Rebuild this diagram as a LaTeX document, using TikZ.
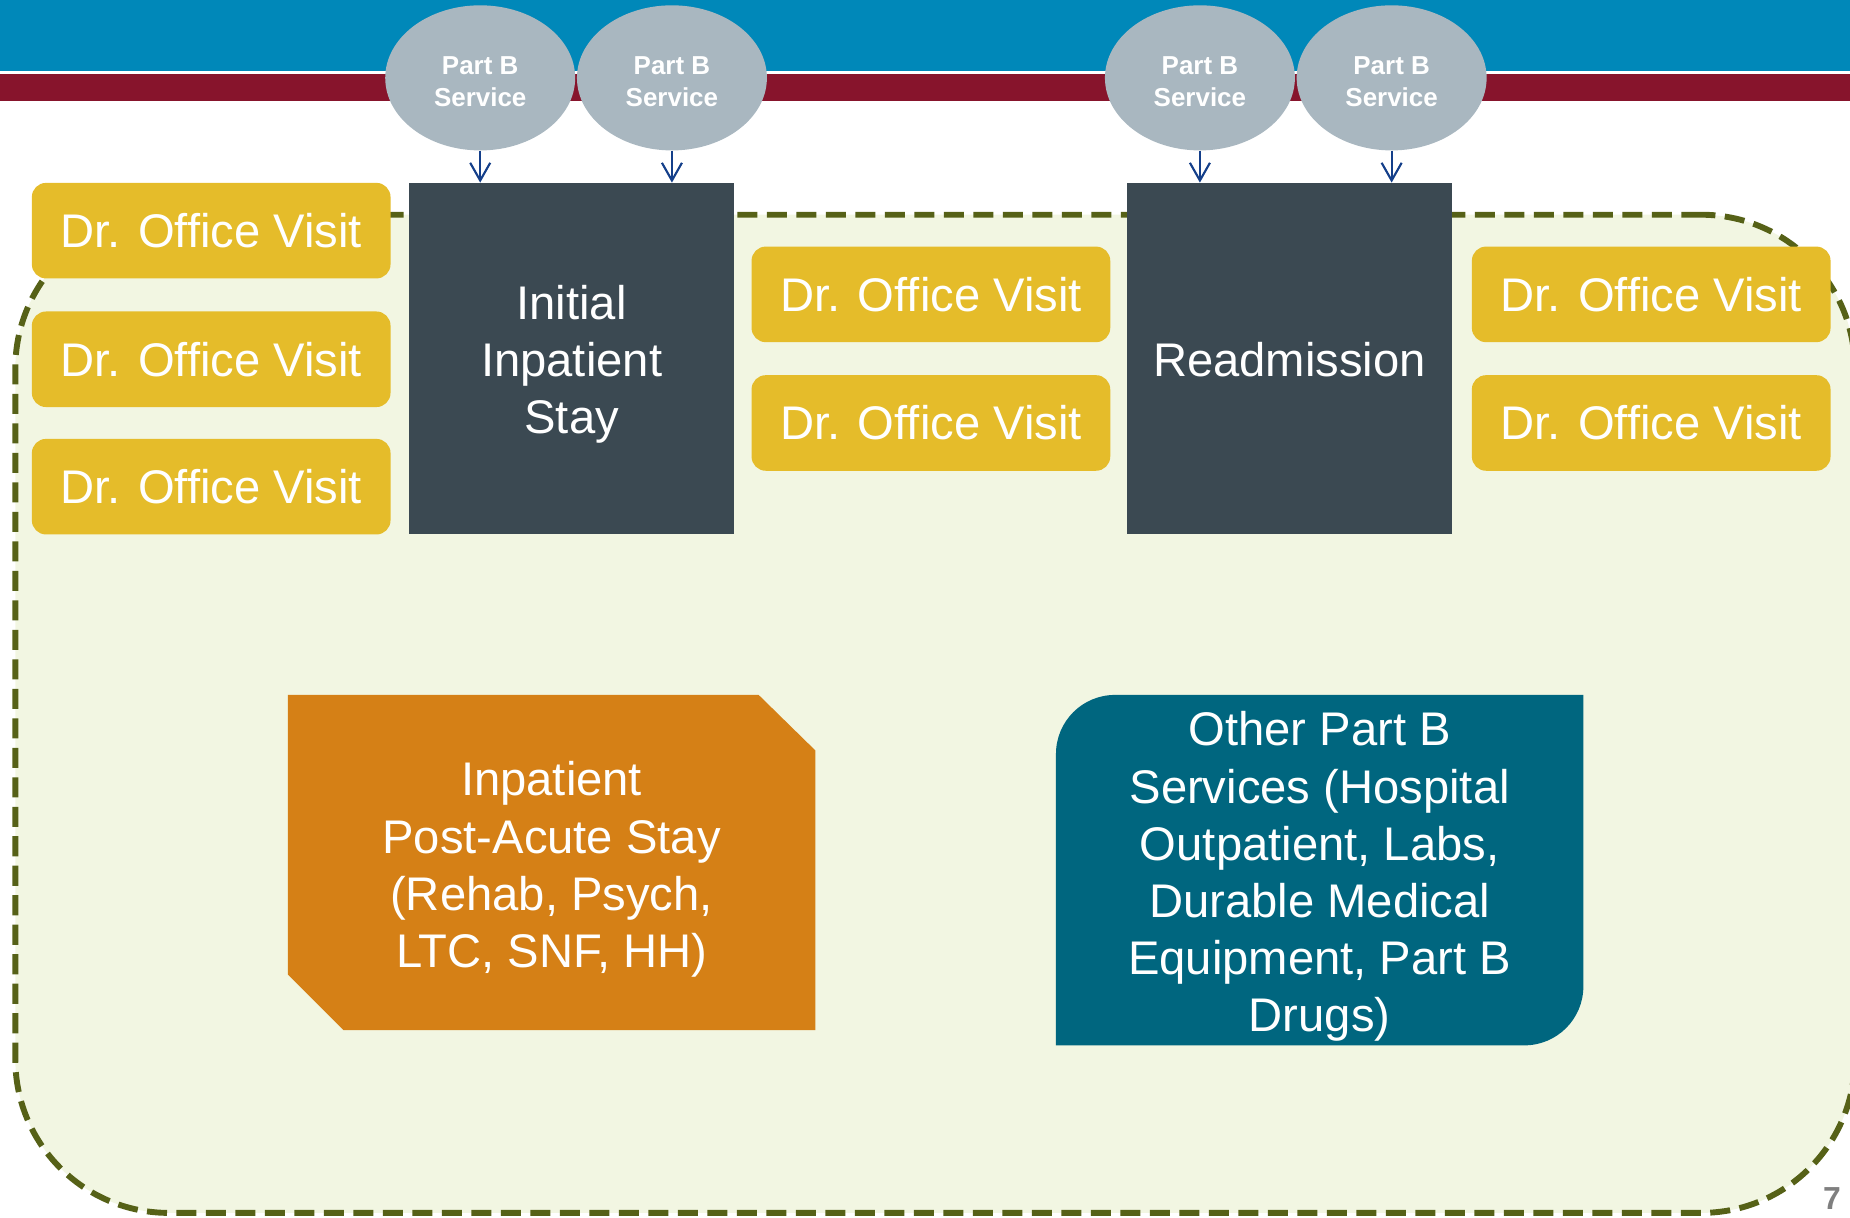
\documentclass[tikz,border=0pt]{standalone}
\usepackage{fontspec}
\setmainfont{Liberation Sans}
\usetikzlibrary{shapes.geometric,arrows.meta}
\definecolor{bannerblue}{HTML}{0088B9}
\definecolor{bannerred}{HTML}{87142C}
\definecolor{visitc}{HTML}{E5BC2A}
\definecolor{stayc}{HTML}{3B4952}
\definecolor{partbc}{HTML}{A9B7C0}
\definecolor{orangec}{HTML}{D58016}
\definecolor{tealc}{HTML}{00667F}
\definecolor{bgc}{HTML}{F2F6E2}
\definecolor{dashc}{HTML}{566117}
\definecolor{arrowc}{HTML}{143F8A}
\definecolor{pagec}{HTML}{7F7F7F}
\begin{document}
\begin{tikzpicture}[x=1pt,y=-1pt,
  visit/.style={rectangle, rounded corners=12pt, fill=visitc, text=white,
    minimum width=304pt, minimum height=81pt, inner sep=0pt,
    font=\fontsize{40}{48}\selectfont},
  stay/.style={rectangle, fill=stayc, minimum width=275pt,
    minimum height=298pt, inner sep=0pt},
  partb/.style={ellipse, fill=partbc, minimum width=161pt,
    minimum height=123pt, inner sep=0pt},
  partbtext/.style={text=white, inner sep=0pt, align=center,
    font=\bfseries\fontsize{22}{27}\selectfont},
  feed/.style={draw=arrowc, line width=1.8pt, -{Straight Barb[length=15pt,width=17pt]}},
  bigtext/.style={text=white, inner sep=0pt, align=center,
    font=\fontsize{40}{48.5}\selectfont}
]
\useasboundingbox (0,0) rectangle (1568,1032);
% banner
\fill[bannerblue] (0,0) rectangle (1568,60);
\fill[bannerred] (0,63) rectangle (1568,86);
% episode area
\node[draw=dashc, fill=bgc, line width=5pt, dash pattern=on 17pt off 8pt,
  rounded corners=130pt, minimum width=1559pt, minimum height=846pt,
  inner sep=0pt] (episode) at (792.5,605) {};
% main stays
\node[stay] (init) at (484.5,304) {};
\node[bigtext] (initlbl) at (484.5,309) {Initial\\Inpatient\\Stay};
\node[stay] (readm) at (1093,304) {};
\node[bigtext] (readmlbl) at (1093,305) {Readmission};
% part B ellipses
\node[partb] (pb1) at (407,66) {};
\node[partb] (pb2) at (569.5,66) {};
\node[partb] (pb3) at (1017,66) {};
\node[partb] (pb4) at (1179.5,66) {};
\node[partbtext] (pb1lbl) at (407,69) {Part B\\Service};
\node[partbtext] (pb2lbl) at (569.5,69) {Part B\\Service};
\node[partbtext] (pb3lbl) at (1017,69) {Part B\\Service};
\node[partbtext] (pb4lbl) at (1179.5,69) {Part B\\Service};
\draw[feed] (pb1.south) -- (pb1.south |- init.north);
\draw[feed] (pb2.south) -- (pb2.south |- init.north);
\draw[feed] (pb3.south) -- (pb3.south |- readm.north);
\draw[feed] (pb4.south) -- (pb4.south |- readm.north);
% office visits
\node[visit] (v1) at (179,195.5) {Dr. Office Visit};
\node[visit] (v2) at (179,304.5) {Dr. Office Visit};
\node[visit] (v3) at (179,412.5) {Dr. Office Visit};
\node[visit] (v4) at (789,249.5) {Dr. Office Visit};
\node[visit] (v5) at (789,358.5) {Dr. Office Visit};
\node[visit] (v6) at (1399.5,249.5) {Dr. Office Visit};
\node[visit] (v7) at (1399.5,358.5) {Dr. Office Visit};
% post-acute stay
\fill[orangec] (244,589) -- (643,589) -- (691,636) -- (691,873)
  -- (291,873) -- (244,826) -- cycle;
\node[bigtext] (pac) at (467.5,737) {Inpatient\\Post-Acute Stay\\(Rehab, Psych,\\LTC, SNF, HH)};
% other part B services
\fill[tealc] (895,886) -- (895,639) arc[start angle=180, end angle=90, radius=50pt]
  -- (1342,589) -- (1342,836) arc[start angle=0, end angle=-90, radius=50pt] -- cycle;
\node[bigtext] (other) at (1118.5,743) {Other Part B\\Services (Hospital\\Outpatient, Labs,\\Durable Medical\\Equipment, Part B\\Drugs)};
% page number
\node[anchor=north west, inner sep=0pt, text=pagec,
  font=\bfseries\fontsize{27}{32}\selectfont] (pnum) at (1545,1006) {7};
\end{tikzpicture}
\end{document}
